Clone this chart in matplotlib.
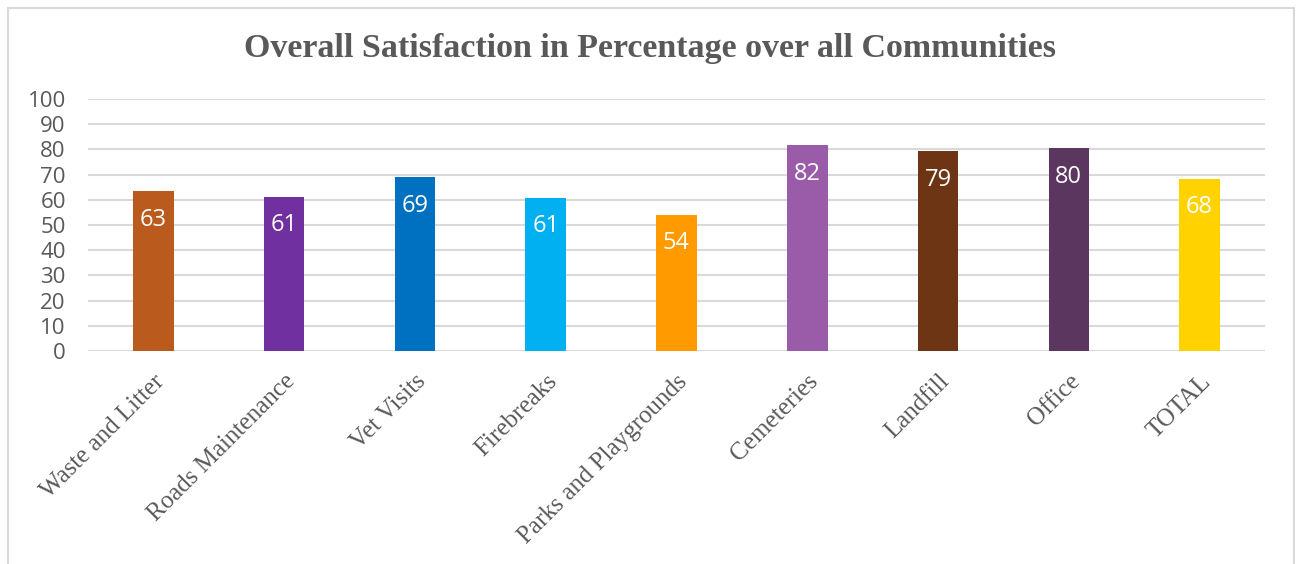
import matplotlib.pyplot as plt
import matplotlib.patches as mpatches

# chart values
categories = ['Waste and Litter', 'Roads Maintenance', 'Vet Visits', 'Firebreaks',
              'Parks and Playgrounds', 'Cemeteries', 'Landfill', 'Office', 'TOTAL']
values = [63.3, 61.2, 69.0, 60.9, 54.1, 81.6, 79.2, 80.5, 68.4]
colors = ['#BA5A1C', '#7030A0', '#0070C0', '#00B0F0', '#FF9A00',
          '#9A5CA8', '#6D3514', '#5B365F', '#FFD200']
yticks = list(range(0, 101, 10))

fig = plt.figure(figsize=(13.01, 5.64), dpi=100)

# light border around the chart area
fig.patches.append(mpatches.Rectangle((8/1301, -0.05), (1294-8)/1301, 1.05-8/564,
                                      transform=fig.transFigure, fill=False,
                                      edgecolor='#D9D9D9', linewidth=1.5))

ax = fig.add_axes([88/1301, 1-351/564, (1265-88)/1301, (351-99)/564])

x = range(len(categories))
bars = ax.bar(x, values, width=0.31, color=colors, zorder=3)

# data labels inside bars near the top
for b, v in zip(bars, values):
    ax.annotate('%d' % round(v), (b.get_x()+b.get_width()/2, v), xytext=(0, -12),
                textcoords='offset points', ha='center', va='top',
                color='white', fontsize=17, family='Open Sans', zorder=4)

ax.set_xlim(-0.5, len(categories)-0.5)
ax.set_ylim(0, 100)
ax.set_yticks(yticks)
ax.set_yticklabels([str(t) for t in yticks], family='Open Sans', fontsize=16, color='#595959')
ax.set_xticks(list(x))
ax.set_xticklabels(categories, rotation=45, ha='right', rotation_mode='anchor',
                   family='Liberation Serif', fontsize=18, color='#595959')
ax.tick_params(length=0)
ax.tick_params(axis='y', pad=16)
ax.tick_params(axis='x', pad=14)

ax.grid(axis='y', color='#D9D9D9', linewidth=1.5, zorder=0)
for s in ax.spines.values():
    s.set_visible(False)

fig.text(0.5, 1-49/564, 'Overall Satisfaction in Percentage over all Communities',
         ha='center', va='center', family='Liberation Serif', fontweight='bold',
         fontsize=24.5, color='#595959')

fig.savefig('out.png', dpi=100)
